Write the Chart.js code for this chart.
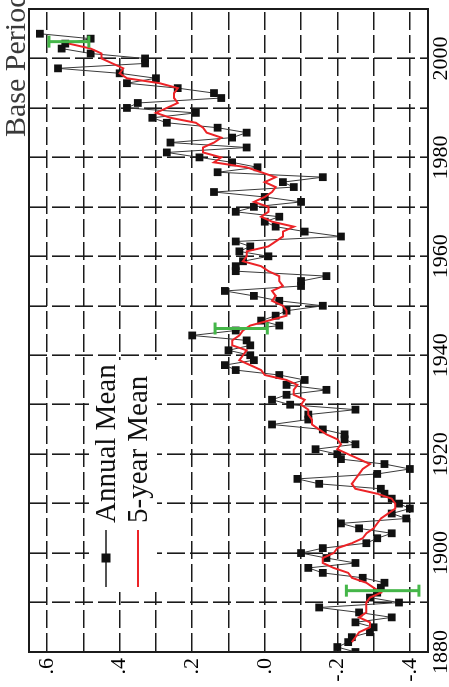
<!DOCTYPE html>
<html>
<head>
<meta charset="utf-8">
<script src="https://cdn.jsdelivr.net/npm/chart.js@4.4.1/dist/chart.umd.min.js"></script>
<style>
  html, body { margin: 0; padding: 0; background: #fff; }
  body { width: 449px; height: 687px; overflow: hidden; position: relative; }
  /* the figure is laid out landscape and turned a quarter turn counter-clockwise */
  #wrap {
    position: absolute; left: 0; top: 0;
    width: 687px; height: 449px;
    transform-origin: 0 0;
    transform: translate(0, 687px) rotate(-90deg);
    background: #fff;
  }
</style>
</head>
<body>
<div id="wrap"><canvas id="c" width="687" height="449"></canvas></div>
<script>
// Global surface temperature anomaly (deg C)
const firstYear = 1880;
const annualMean = [
  -0.25, -0.20, -0.23, -0.24, -0.29, -0.30, -0.25, -0.35, -0.26, -0.15,   // 1880s
  -0.37, -0.29, -0.31, -0.32, -0.33, -0.27, -0.16, -0.12, -0.25, -0.17,   // 1890s
  -0.10, -0.16, -0.28, -0.31, -0.35, -0.26, -0.21, -0.39, -0.35, -0.40,   // 1900s
  -0.37, -0.35, -0.33, -0.32, -0.15, -0.09, -0.31, -0.40, -0.33, -0.21,   // 1910s
  -0.20, -0.14, -0.25, -0.22, -0.22, -0.16, -0.02, -0.12, -0.12, -0.25,   // 1920s
  -0.07, -0.02, -0.06, -0.17, -0.06, -0.11, -0.04,  0.08,  0.11,  0.03,   // 1930s
   0.04,  0.10,  0.04,  0.05,  0.20,  0.08, -0.04,  0.01, -0.03, -0.06,   // 1940s
  -0.16, -0.04,  0.03,  0.11, -0.10, -0.10, -0.17,  0.08,  0.08,  0.06,   // 1950s
  -0.01,  0.07,  0.04,  0.08, -0.21, -0.11, -0.03,  0.00, -0.04,  0.08,   // 1960s
   0.03, -0.10,  0.00,  0.14, -0.08, -0.05, -0.16,  0.13,  0.02,  0.09,   // 1970s
   0.18,  0.27,  0.05,  0.26,  0.09,  0.05,  0.13,  0.27,  0.31,  0.19,   // 1980s
   0.38,  0.35,  0.12,  0.14,  0.24,  0.38,  0.30,  0.40,  0.57,  0.33,   // 1990s
   0.33,  0.48,  0.56,  0.55,  0.48,  0.62                                // 2000s
];

// 5-year running mean, 1882-2003
const fiveYearStart = 1882;
const fiveYearMean = [
  -0.24, -0.25, -0.26, -0.29, -0.29, -0.26, -0.28, -0.28,
  -0.28, -0.29, -0.32, -0.30, -0.28, -0.24, -0.23, -0.19, -0.16, -0.16,
  -0.19, -0.20, -0.24, -0.27, -0.28, -0.30, -0.31, -0.32, -0.34, -0.36,
  -0.36, -0.35, -0.31, -0.25, -0.24, -0.25, -0.26, -0.27, -0.29, -0.26,
  -0.23, -0.20, -0.21, -0.20, -0.17, -0.15, -0.13, -0.13, -0.12, -0.12,
  -0.10, -0.11, -0.08, -0.08, -0.09, -0.06,  0.00,  0.01,  0.04,  0.07,
   0.06,  0.05,  0.09,  0.09,  0.07,  0.06,  0.04, -0.01, -0.06, -0.06,
  -0.05, -0.02, -0.03, -0.02, -0.05, -0.04, -0.04, -0.01,  0.01,  0.06,
   0.05,  0.05, -0.01, -0.03, -0.05, -0.05, -0.08, -0.02,  0.01, -0.01,
  -0.01,  0.03,  0.00, -0.02, -0.03,  0.00, -0.03,  0.01,  0.05,  0.14,
   0.12,  0.17,  0.17,  0.14,  0.12,  0.16,  0.17,  0.19,  0.26,  0.30,
   0.27,  0.24,  0.25,  0.25,  0.24,  0.29,  0.38,  0.40,  0.39,  0.42,
   0.45,  0.45,  0.48,  0.54
];

// uncertainty bars (2-sigma)
const errorYears  = [1892.4, 1945.4, 2003.4];
const errorCenter = [-0.325, 0.065, 0.540];
const errorHalf   = [0.100, 0.072, 0.055];

// axis ticks
const yearTicks = [1880, 1890, 1900, 1910, 1920, 1930, 1940, 1950, 1960, 1970, 1980, 1990, 2000, 2010];
const yearLabels = [1880, 1900, 1920, 1940, 1960, 1980, 2000];
const tempTicks = [-0.4, -0.3, -0.2, -0.1, 0.0, 0.1, 0.2, 0.3, 0.4, 0.5, 0.6];
const tempLabels = [-0.4, -0.2, 0.0, 0.2, 0.4, 0.6];

const legendItems = ['Annual Mean', '5-year Mean'];
const cornerNote = 'Base Period';

const INK = '#1b1b1b';
const RED = '#ec2327';
const GREEN = '#45b649';
const SERIF = '"Liberation Serif", "DejaVu Serif", serif';

const annualPts = annualMean.map((v, i) => ({ x: firstYear + i, y: v }));
const fivePts = fiveYearMean.map((v, i) => ({ x: fiveYearStart + i, y: v }));

const errorSets = errorYears.map((yr, i) => ({
  label: 'error' + i,
  data: [
    { x: yr, y: errorCenter[i] - errorHalf[i] },
    { x: yr, y: errorCenter[i] + errorHalf[i] }
  ],
  borderColor: GREEN,
  borderWidth: 3,
  pointStyle: 'line',
  pointRadius: 6,
  pointBorderWidth: 3,
  pointBorderColor: GREEN,
  pointHoverRadius: 6,
  order: 1
}));

function tempText(v) {
  const n = Math.round(v * 10);
  const s = '.' + Math.abs(n);
  return n < 0 ? '-' + s : s;
}

// solid frame around the plotting area
const framePlugin = {
  id: 'frame',
  afterDatasetsDraw(chart) {
    const { ctx, chartArea: a } = chart;
    ctx.save();
    ctx.strokeStyle = INK;
    ctx.lineWidth = 2;
    ctx.setLineDash([]);
    ctx.strokeRect(a.left, a.top, a.right - a.left, a.bottom - a.top);
    ctx.restore();
  }
};

// key drawn inside the plot, plus the corner note
const keyPlugin = {
  id: 'key',
  afterDraw(chart) {
    const { ctx } = chart;
    ctx.save();
    ctx.fillStyle = '#fff';
    ctx.fillRect(95, 89, 232, 68);

    // Annual Mean: line with square marker
    ctx.strokeStyle = INK;
    ctx.lineWidth = 1.5;
    ctx.beginPath(); ctx.moveTo(100, 106); ctx.lineTo(157, 106); ctx.stroke();
    ctx.fillStyle = '#111';
    ctx.fillRect(124.5, 101.5, 9, 9);

    // 5-year Mean: red line
    ctx.strokeStyle = RED;
    ctx.lineWidth = 2;
    ctx.beginPath(); ctx.moveTo(100, 138); ctx.lineTo(157, 138); ctx.stroke();

    ctx.fillStyle = '#111';
    ctx.font = '29px ' + SERIF;
    ctx.textAlign = 'left';
    ctx.textBaseline = 'alphabetic';
    ctx.fillText(legendItems[0], 164, 115);
    ctx.fillText(legendItems[1], 164, 147);

    ctx.font = '30px ' + SERIF;
    ctx.fillStyle = '#3a3a3a';
    ctx.fillText(cornerNote, 550, 25);
    ctx.restore();
  }
};

new Chart(document.getElementById('c'), {
  type: 'line',
  data: {
    datasets: [
      {
        label: legendItems[0],
        data: annualPts,
        borderColor: '#3a3a3a',
        borderWidth: 1,
        pointStyle: 'rect',
        pointRadius: 5.5,
        pointHoverRadius: 5.5,
        pointBackgroundColor: '#111',
        pointBorderWidth: 0,
        tension: 0,
        order: 3
      },
      {
        label: legendItems[1],
        data: fivePts,
        borderColor: RED,
        borderWidth: 2,
        pointRadius: 0,
        tension: 0,
        order: 2
      },
      ...errorSets
    ]
  },
  options: {
    responsive: false,
    animation: false,
    events: [],
    layout: { padding: { top: 29, right: 8, left: 0, bottom: 0 } },
    plugins: { legend: { display: false }, tooltip: { enabled: false } },
    scales: {
      x: {
        type: 'linear',
        min: 1880,
        max: 2010,
        afterBuildTicks(scale) { scale.ticks = yearTicks.map(v => ({ value: v })); },
        afterFit(scale) { scale.height = 21; },
        ticks: {
          autoSkip: false,
          maxRotation: 0,
          minRotation: 0,
          padding: 0,
          color: '#000',
          font: { family: SERIF, size: 22 },
          callback: v => (yearLabels.includes(v) ? String(v) : '')
        },
        grid: { color: INK, lineWidth: 1.6, drawTicks: false },
        border: { display: true, color: INK, width: 2, dash: [18, 5] }
      },
      y: {
        type: 'linear',
        min: -0.45,
        max: 0.65,
        afterBuildTicks(scale) { scale.ticks = tempTicks.map(v => ({ value: v })); },
        afterFit(scale) { scale.width = 35; },
        ticks: {
          autoSkip: false,
          padding: 6,
          color: '#000',
          font: { family: SERIF, size: 22 },
          callback: v => (tempLabels.some(t => Math.abs(t - v) < 1e-6) ? tempText(v) : '')
        },
        grid: { color: INK, lineWidth: 1.6, drawTicks: false },
        border: { display: true, color: INK, width: 2, dash: [18, 5] }
      }
    }
  },
  plugins: [framePlugin, keyPlugin]
});
</script>
</body>
</html>
